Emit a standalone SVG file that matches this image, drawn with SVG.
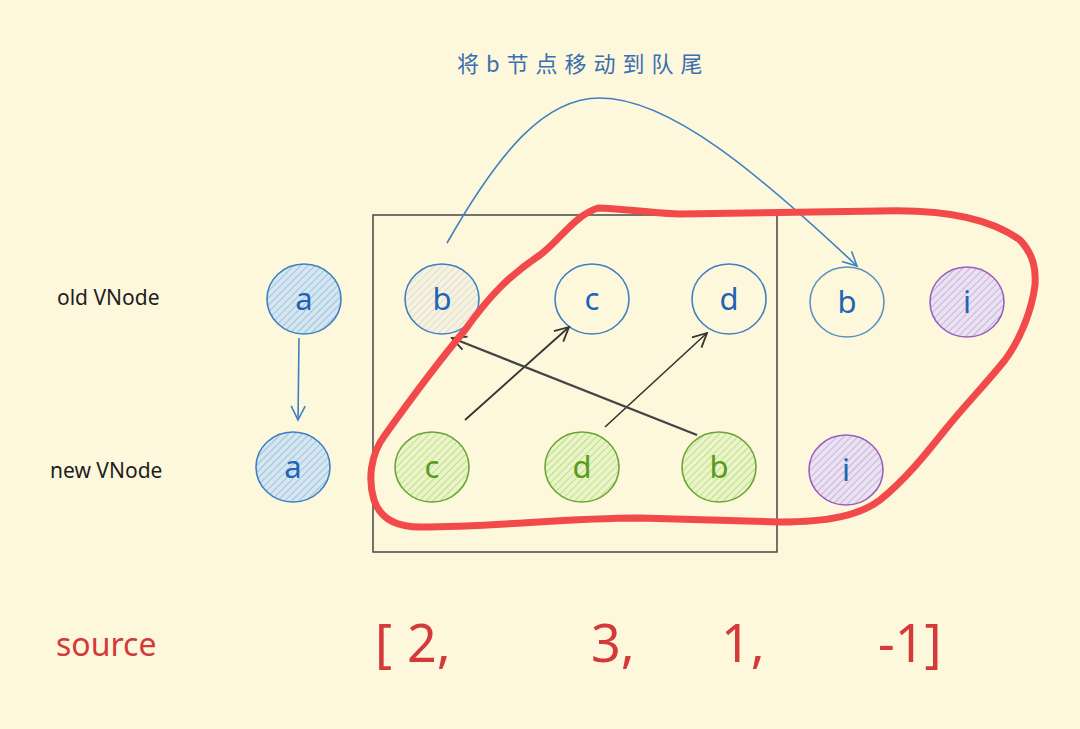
<svg xmlns="http://www.w3.org/2000/svg" width="1080" height="729" viewBox="0 0 1080 729">
<style>
.lbl{font-family:"Noto Sans","Liberation Sans",sans-serif;font-size:21px;fill:#1e1e1e}
.nt{font-family:"Noto Sans","Liberation Sans",sans-serif;font-size:31px;text-anchor:middle;dominant-baseline:central}
.blue{fill:#1e64b4}
.green{fill:#5a9a1c}
.nb{stroke:#3f80c0;stroke-width:1.6}
.ng{stroke:#6aa534;stroke-width:1.6}
.np{stroke:#9b5fc0;stroke-width:1.6}
.src{font-family:"Noto Sans","Liberation Sans",sans-serif;fill:#d43a3a}
</style>
<defs>
<pattern id="hBlue" patternUnits="userSpaceOnUse" width="5" height="5" patternTransform="rotate(45)">
<rect width="5" height="5" fill="#d6e6ee"/><line x1="0" y1="0" x2="0" y2="5" stroke="#9cc3e6" stroke-width="2"/>
</pattern>
<pattern id="hGray" patternUnits="userSpaceOnUse" width="5" height="5" patternTransform="rotate(45)">
<rect width="5" height="5" fill="#f6f2e0"/><line x1="0" y1="0" x2="0" y2="5" stroke="#e0ddcf" stroke-width="2"/>
</pattern>
<pattern id="hGreen" patternUnits="userSpaceOnUse" width="5" height="5" patternTransform="rotate(45)">
<rect width="5" height="5" fill="#eaf4c8"/><line x1="0" y1="0" x2="0" y2="5" stroke="#bde08a" stroke-width="2"/>
</pattern>
<pattern id="hPurple" patternUnits="userSpaceOnUse" width="5" height="5" patternTransform="rotate(45)">
<rect width="5" height="5" fill="#ebe2ef"/><line x1="0" y1="0" x2="0" y2="5" stroke="#c6b2e6" stroke-width="2"/>
</pattern>
<marker id="arrBlue" markerUnits="userSpaceOnUse" markerWidth="20" markerHeight="20" viewBox="0 0 20 20" refX="18" refY="10" orient="auto">
<path d="M4,3 L18,10 L4,17" fill="none" stroke="#3f80c0" stroke-width="1.6"/>
</marker>
<marker id="arrDark" markerUnits="userSpaceOnUse" markerWidth="20" markerHeight="20" viewBox="0 0 20 20" refX="18" refY="10" orient="auto">
<path d="M4,3 L18,10 L4,17" fill="none" stroke="#333" stroke-width="1.8"/>
</marker>
</defs>
<rect width="1080" height="729" fill="#fdf8dc"/>

<g id="frame">
<rect x="373" y="215" width="404" height="337" fill="none" stroke="#454545" stroke-width="1.5"/>
</g>

<g id="labels">
<text class="lbl" x="57" y="305">old VNode</text>
<text class="lbl" x="50" y="478">new VNode</text>
<text x="457" y="72" font-family="'Noto Sans CJK SC','Noto Sans',sans-serif" font-size="22" letter-spacing="7" fill="#3b6fb0">将b节点移动到队尾</text>
</g>

<g id="node-old-a"><ellipse cx="304" cy="299" rx="37" ry="35" fill="url(#hBlue)" class="nb"/><text class="nt blue" x="304" y="298">a</text></g>
<g id="node-old-b"><ellipse cx="442" cy="299" rx="37" ry="35" fill="url(#hGray)" class="nb"/><text class="nt blue" x="442" y="298">b</text></g>
<g id="node-old-c"><ellipse cx="592" cy="299" rx="37" ry="35" fill="none" class="nb"/><text class="nt blue" x="592" y="298">c</text></g>
<g id="node-old-d"><ellipse cx="729" cy="299" rx="37" ry="35" fill="none" class="nb"/><text class="nt blue" x="729" y="298">d</text></g>
<g id="node-old-b2"><ellipse cx="847" cy="302" rx="37" ry="35" fill="none" stroke="#5b92c4" stroke-width="1.6"/><text class="nt blue" x="847" y="301">b</text></g>
<g id="node-old-i"><ellipse cx="967" cy="302" rx="37" ry="35" fill="url(#hPurple)" class="np"/><text class="nt blue" x="967" y="301">i</text></g>

<g id="node-new-a"><ellipse cx="293" cy="467" rx="37" ry="35" fill="url(#hBlue)" class="nb"/><text class="nt blue" x="293" y="466">a</text></g>
<g id="node-new-c"><ellipse cx="432" cy="467" rx="37" ry="35" fill="url(#hGreen)" class="ng"/><text class="nt green" x="432" y="466">c</text></g>
<g id="node-new-d"><ellipse cx="582" cy="467" rx="37" ry="35" fill="url(#hGreen)" class="ng"/><text class="nt green" x="582" y="466">d</text></g>
<g id="node-new-b"><ellipse cx="719" cy="467" rx="37" ry="35" fill="url(#hGreen)" class="ng"/><text class="nt green" x="719" y="466">b</text></g>
<g id="node-new-i"><ellipse cx="846" cy="470" rx="37" ry="35" fill="url(#hPurple)" class="np"/><text class="nt blue" x="846" y="469">i</text></g>

<g id="connectors" fill="none">
<path d="M299,338 L298,420" stroke="#3f80c0" stroke-width="1.6" marker-end="url(#arrBlue)"/>
<path d="M447,243 C500,150 545,98 600,98 C670,98 760,175 857,266" stroke="#3f80c0" stroke-width="1.6" marker-end="url(#arrBlue)"/>
<path d="M465,420 L569,327" stroke="#333" stroke-width="1.8" marker-end="url(#arrDark)"/>
<path d="M605,427 L707,333" stroke="#333" stroke-width="1.6" marker-end="url(#arrDark)"/>
<path d="M697,435 L452,338" stroke="#444" stroke-width="2.4" marker-end="url(#arrDark)"/>
</g>

<g id="group-outline">
<path d="M598,208 C640,210 660,214 680,214 L880,211 C940,209 990,218 1020,240 C1034,255 1036,270 1035,285 C1032,310 1020,340 1005,360 C985,385 965,405 945,430 C925,455 905,480 880,500 C860,515 830,522 780,522 L640,518 C560,518 500,527 420,527 C395,527 380,518 374,500 C368,480 370,455 385,435 C410,400 440,360 465,330 C490,295 510,275 540,255 C560,240 575,215 598,208 Z" stroke="#f24a4a" stroke-width="7" fill="none" stroke-linejoin="round"/>
</g>

<g id="source">
<text class="src" x="56" y="656" font-size="32">source</text>
<text class="src" x="375" y="662" font-size="52">[</text>
<text class="src" x="407" y="662" font-size="52">2,</text>
<text class="src" x="591" y="662" font-size="52">3,</text>
<text class="src" x="721" y="662" font-size="52">1,</text>
<text class="src" x="878" y="662" font-size="52">-1]</text>
</g>
</svg>
